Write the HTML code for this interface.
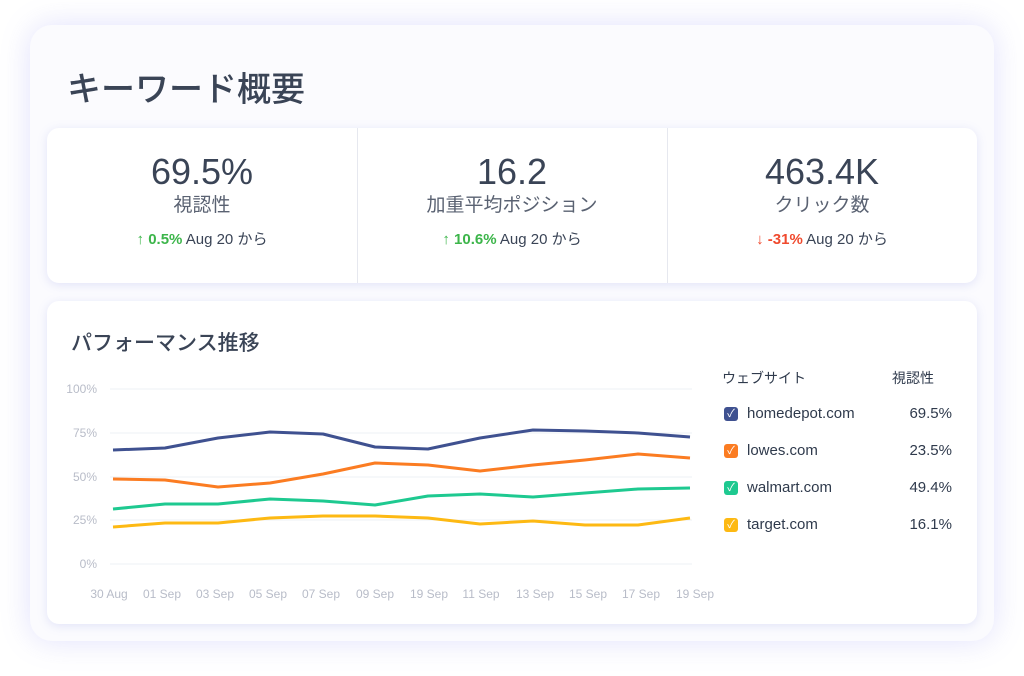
<!DOCTYPE html>
<html><head><meta charset="utf-8"><style>
body{margin:0;width:1024px;height:676px;background:#fff;font-family:"Liberation Sans","Noto Sans CJK JP",sans-serif;position:relative;overflow:hidden}
.outer{position:absolute;left:30px;top:25px;width:964px;height:616px;background:#fbfbfe;border-radius:22px;box-shadow:0 0 30px rgba(120,120,240,.22)}
.card{position:absolute;background:#fff;border-radius:12px;box-shadow:0 2px 10px rgba(110,120,220,.18)}
h1{position:absolute;left:67px;top:62px;margin:0;font-size:34px;font-weight:500;color:#3a4456}
.stat{position:absolute;top:0;width:310px;height:155px;text-align:center;color:#3a4456}
.stat .v{margin-top:22px;font-size:36px;line-height:44px}
.stat .l{font-size:19px;color:#5a6272;line-height:24px}
.stat .c{margin-top:10px;font-size:15px;color:#3a4456}
.g{color:#3cb54a;font-weight:bold}.r{color:#f04a2e;font-weight:bold}
.sep{position:absolute;top:0;width:1px;height:155px;background:#e6e8ef}
.leg{position:absolute;font-size:15px;color:#2f3a4c}
.cb{position:absolute;width:14px;height:14px;border-radius:3px;color:#fff;font-size:11px;line-height:14px;text-align:center}
</style></head><body>
<div class="outer"></div>
<h1>キーワード概要</h1>
<div class="card" style="left:47px;top:128px;width:930px;height:155px">
 <div class="stat" style="left:0"><div class="v">69.5%</div><div class="l">視認性</div><div class="c"><span class="g">↑ 0.5%</span> Aug 20 から</div></div>
 <div class="sep" style="left:310px"></div>
 <div class="stat" style="left:310px"><div class="v">16.2</div><div class="l">加重平均ポジション</div><div class="c"><span class="g">↑ 10.6%</span> Aug 20 から</div></div>
 <div class="sep" style="left:620px"></div>
 <div class="stat" style="left:620px"><div class="v">463.4K</div><div class="l">クリック数</div><div class="c"><span class="r">↓ -31%</span> Aug 20 から</div></div>
</div>
<div class="card" style="left:47px;top:301px;width:930px;height:323px"></div>
<div style="position:absolute;left:71px;top:327px;font-size:21px;color:#3a4456;font-weight:500">パフォーマンス推移</div>
<svg style="position:absolute;left:0;top:0" width="1024" height="676" font-family="Liberation Sans" font-size="12" fill="#b8bcc8">
<g stroke="#eef0f4" stroke-width="1">
<line x1="110" y1="389" x2="692" y2="389"/><line x1="110" y1="433" x2="692" y2="433"/><line x1="110" y1="477" x2="692" y2="477"/><line x1="110" y1="520" x2="692" y2="520"/><line x1="110" y1="564" x2="692" y2="564"/>
</g>
<g text-anchor="end"><text x="97" y="393">100%</text><text x="97" y="437">75%</text><text x="97" y="481">50%</text><text x="97" y="524">25%</text><text x="97" y="568">0%</text></g>
<g text-anchor="middle">
<text x="109" y="598">30 Aug</text><text x="162" y="598">01 Sep</text><text x="215" y="598">03 Sep</text><text x="268" y="598">05 Sep</text><text x="321" y="598">07 Sep</text><text x="375" y="598">09 Sep</text><text x="429" y="598">19 Sep</text><text x="481" y="598">11 Sep</text><text x="535" y="598">13 Sep</text><text x="588" y="598">15 Sep</text><text x="641" y="598">17 Sep</text><text x="695" y="598">19 Sep</text></g>
<g fill="none" stroke-width="3" stroke-linejoin="round">
<polyline stroke="#3f5190" points="113,450 165,448 218,438 270,432 323,434 375,447 428,449 480,438 533,430 585,431 638,433 690,437"/>
<polyline stroke="#fb7c22" points="113,479 165,480 218,487 270,483 323,474 375,463 428,465 480,471 533,465 585,460 638,454 690,458"/>
<polyline stroke="#1ec990" points="113,509 165,504 218,504 270,499 323,501 375,505 428,496 480,494 533,497 585,493 638,489 690,488"/>
<polyline stroke="#fdb913" points="113,527 165,523 218,523 270,518 323,516 375,516 428,518 480,524 533,521 585,525 638,525 690,518"/>
</g></svg>
<div class="leg" style="left:722px;top:368px;font-size:14px">ウェブサイト</div>
<div class="leg" style="left:892px;top:368px;font-size:14px">視認性</div>
<div class="cb" style="left:724px;top:407px;background:#3f5190">✓</div><div class="leg" style="left:747px;top:405px">homedepot.com</div><div class="leg" style="left:900px;top:405px;width:52px;text-align:right">69.5%</div>
<div class="cb" style="left:724px;top:444px;background:#fb7c22">✓</div><div class="leg" style="left:747px;top:442px">lowes.com</div><div class="leg" style="left:900px;top:442px;width:52px;text-align:right">23.5%</div>
<div class="cb" style="left:724px;top:481px;background:#1ec990">✓</div><div class="leg" style="left:747px;top:479px">walmart.com</div><div class="leg" style="left:900px;top:479px;width:52px;text-align:right">49.4%</div>
<div class="cb" style="left:724px;top:518px;background:#fdb913">✓</div><div class="leg" style="left:747px;top:516px">target.com</div><div class="leg" style="left:900px;top:516px;width:52px;text-align:right">16.1%</div>
</body></html>
